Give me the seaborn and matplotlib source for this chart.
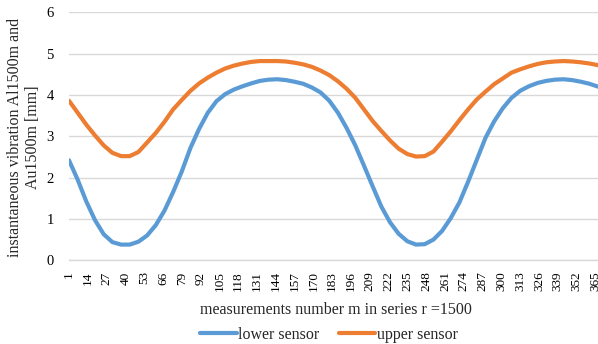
import numpy as np
import pandas as pd
import matplotlib
matplotlib.use("Agg")
import matplotlib.pyplot as plt
import seaborn as sns

# measurement numbers m (sampled every 6th measurement)
m_values = [1, 7, 13, 19, 25, 31, 37, 43, 49, 55, 61, 67, 73, 79, 85, 91, 97, 103,
            109, 115, 121, 127, 133, 139, 145, 151, 157, 163, 169, 175, 181, 187,
            193, 199, 205, 211, 217, 223, 229, 235, 241, 247, 253, 259, 265, 271,
            277, 283, 289, 295, 301, 307, 313, 319, 325, 331, 337, 343, 349, 355,
            361, 367]

lower_sensor = [2.42, 1.95, 1.42, 0.97, 0.63, 0.44, 0.38, 0.38, 0.45, 0.60, 0.85,
                1.20, 1.65, 2.15, 2.72, 3.18, 3.57, 3.85, 4.02, 4.13, 4.21, 4.28,
                4.34, 4.37, 4.38, 4.36, 4.32, 4.27, 4.18, 4.06, 3.86, 3.57, 3.20,
                2.78, 2.29, 1.79, 1.30, 0.92, 0.64, 0.46, 0.38, 0.39, 0.50, 0.71,
                1.02, 1.40, 1.90, 2.43, 2.96, 3.36, 3.68, 3.93, 4.10, 4.21, 4.29,
                4.34, 4.37, 4.38, 4.36, 4.32, 4.27, 4.20]

upper_sensor = [3.86, 3.57, 3.28, 3.02, 2.78, 2.60, 2.52, 2.52, 2.62, 2.85, 3.08,
                3.35, 3.65, 3.88, 4.10, 4.28, 4.42, 4.54, 4.64, 4.71, 4.76, 4.80,
                4.82, 4.82, 4.82, 4.81, 4.78, 4.74, 4.68, 4.59, 4.48, 4.33, 4.15,
                3.93, 3.65, 3.37, 3.13, 2.90, 2.70, 2.57, 2.51, 2.52, 2.63, 2.87,
                3.12, 3.39, 3.65, 3.89, 4.08, 4.26, 4.40, 4.54, 4.62, 4.69, 4.75,
                4.79, 4.81, 4.82, 4.81, 4.79, 4.76, 4.72]

series_names = ["lower sensor", "upper sensor"]
series_colors = ["#5B9BD5", "#ED7D31"]
y_ticks = [0, 1, 2, 3, 4, 5, 6]
x_label_ticks = list(range(1, 366, 13))
x_minor_ticks = list(range(1, 367, 10))

df = pd.DataFrame({
    "m": m_values * 2,
    "value": lower_sensor + upper_sensor,
    "series": [series_names[0]] * len(m_values) + [series_names[1]] * len(m_values),
})

sns.set_theme(style="white")
plt.rcParams["font.family"] = ["Liberation Serif", "DejaVu Serif"]

fig = plt.figure(figsize=(5.98, 3.44), dpi=100)
W, H = 598, 344
left, right, top, bottom = 69, 598, 12.3, 260.3
ax = fig.add_axes([left / W, 1 - bottom / H, (right - left) / W, (bottom - top) / H])

sns.lineplot(data=df, x="m", y="value", hue="series", palette=series_colors,
             hue_order=series_names, linewidth=3.0, ax=ax, legend=False)

ax.set_xlim(1, 1 + (right - left) / 1.446)
ax.set_ylim(0, 6)
ax.set_yticks(y_ticks)
ax.set_yticklabels([str(v) for v in y_ticks], fontsize=10.5, color="#000000")
ax.set_xticks(x_label_ticks)
ax.set_xticklabels([str(v) for v in x_label_ticks], rotation=90, fontsize=9.5,
                   color="#000000")
ax.set_xticks(x_minor_ticks, minor=True)
ax.tick_params(axis="x", which="major", length=0, pad=8)
ax.tick_params(axis="x", which="minor", length=4.5, color="#d9d9d9", width=1,
               direction="out")
ax.tick_params(axis="y", length=0, pad=11)

ax.grid(axis="y", color="#d9d9d9", linewidth=1)
ax.set_axisbelow(True)
for s in ["top", "right", "left"]:
    ax.spines[s].set_visible(False)
ax.spines["bottom"].set_color("#d9d9d9")
ax.spines["bottom"].set_linewidth(1)

ax.set_xlabel("")
ax.set_ylabel("")
fig.text(336 / W, 1 - 310 / H, "measurements number m in series r =1500",
         ha="center", va="center", fontsize=11.5)
fig.text(24 / W, 1 - 137 / H, "instantaneous vibration Al1500m and\nAu1500m [mm]",
         ha="center", va="center", rotation=90, fontsize=11.5, linespacing=1.12)

handles = [plt.Line2D([], [], color=c, linewidth=3.0) for c in series_colors]
fig.legend(handles, series_names, loc="center", bbox_to_anchor=(329 / W, 1 - 335 / H),
           ncol=2, frameon=False, fontsize=11.5, handlelength=2.3,
           handletextpad=0.1, columnspacing=1.2, borderpad=0, borderaxespad=0)

fig.savefig("out.png", dpi=100)
